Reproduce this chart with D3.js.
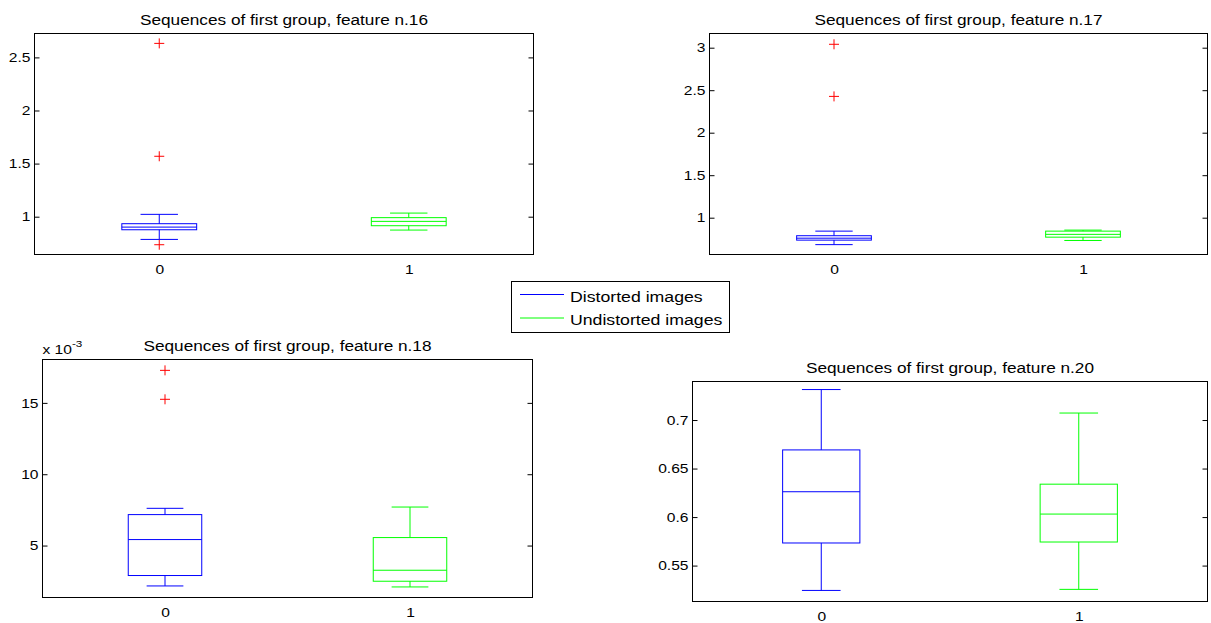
<!DOCTYPE html>
<html>
<head>
<meta charset="utf-8">
<script src="https://cdn.jsdelivr.net/npm/d3@7"></script>
<style>
  html, body { margin: 0; padding: 0; background: #fff; }
  svg { display: block; font-family: "Liberation Sans", Arial, Helvetica, sans-serif; }
</style>
</head>
<body>
<svg id="chart" width="1211" height="623"></svg>
<script>
// ---------------- DATA ----------------
const groups = ["0", "1"];
const seriesNames = ["Distorted images", "Undistorted images"];
const seriesColors = ["#0000ff", "#00ff00"];
const outlierColor = "#ff0000";

const titles = [
  "Sequences of first group, feature n.16",
  "Sequences of first group, feature n.17",
  "Sequences of first group, feature n.18",
  "Sequences of first group, feature n.20"
];

// stats per group: [lower whisker, Q1, median, Q3, upper whisker]
const f16Stats = [[0.786, 0.877, 0.902, 0.934, 1.022], [0.874, 0.915, 0.956, 0.991, 1.034]];
const f16Outliers = [[0.736, 1.569, 2.632], []];
const f16Ticks = [1, 1.5, 2, 2.5];
const f16Limits = [0.644, 2.725];

const f17Stats = [[0.683, 0.736, 0.759, 0.788, 0.842], [0.732, 0.771, 0.804, 0.842, 0.854]];
const f17Outliers = [[2.427, 3.04], []];
const f17Ticks = [1, 1.5, 2, 2.5, 3];
const f17Limits = [0.567, 3.167];

const f18Stats = [[0.00217, 0.00290, 0.00542, 0.00717, 0.00761], [0.00210, 0.00250, 0.00327, 0.00556, 0.00770]];
const f18Outliers = [[0.01525, 0.01728], []];
const f18Ticks = [0.005, 0.010, 0.015];
const f18Limits = [0.00136, 0.01804];
const f18Exponent = -3;

const f20Stats = [[0.5244, 0.5733, 0.6261, 0.6692, 0.7314], [0.5255, 0.5743, 0.6031, 0.6339, 0.7072]];
const f20Outliers = [[], []];
const f20Ticks = [0.55, 0.6, 0.65, 0.7];
const f20Limits = [0.513, 0.7397];

// ---------------- LAYOUT ----------------
const panels = [
  { title: titles[0], stats: f16Stats, outliers: f16Outliers, ticks: f16Ticks, limits: f16Limits, exp: 0,
    box: { left: 34.5, right: 533.5, top: 33.5, bottom: 254.5 } },
  { title: titles[1], stats: f17Stats, outliers: f17Outliers, ticks: f17Ticks, limits: f17Limits, exp: 0,
    box: { left: 709.5, right: 1207.5, top: 33.5, bottom: 254.5 } },
  { title: titles[2], stats: f18Stats, outliers: f18Outliers, ticks: f18Ticks, limits: f18Limits, exp: f18Exponent,
    box: { left: 42.5, right: 532.5, top: 359.5, bottom: 597.5 } },
  { title: titles[3], stats: f20Stats, outliers: f20Outliers, ticks: f20Ticks, limits: f20Limits, exp: 0,
    box: { left: 692.5, right: 1207.5, top: 381.5, bottom: 601.5 } }
];

const TICK_FS = 12, TICK_SX = 1.3;
const TITLE_FS = 14, TITLE_SX = 1.23;
const LEG_FS = 15, LEG_SX = 1.18;

const svg = d3.select("#chart");

function stretchText(sel, sx) {
  sel.each(function () {
    const t = d3.select(this);
    const x = +t.attr("x") || 0;
    const y = +t.attr("y") || 0;
    t.attr("x", null).attr("y", null)
     .attr("transform", `translate(${x},${y}) scale(${sx},1)`);
  });
}

panels.forEach(p => {
  const b = p.box;
  const g = svg.append("g");
  const x = d3.scaleLinear().domain([0.5, groups.length + 0.5]).range([b.left, b.right]);
  const y = d3.scaleLinear().domain(p.limits).range([b.bottom, b.top]);
  const scaleMul = Math.pow(10, -p.exp);
  const fmt = v => d3.format("~g")(+(v * scaleMul).toPrecision(6));

  // left axis (inward ticks)
  const ax = g.append("g").attr("transform", `translate(${b.left},0)`)
    .call(d3.axisLeft(y).tickValues(p.ticks).tickSize(-5).tickPadding(0).tickFormat(fmt));
  ax.select(".domain").remove();
  ax.selectAll(".tick line").attr("stroke", "#000");
  ax.selectAll(".tick text")
    .attr("font-size", TICK_FS).attr("fill", "#000")
    .attr("font-family", "Liberation Sans, Arial, sans-serif")
    .attr("text-anchor", "end").attr("dy", "0.35em").attr("x", -4);
  ax.selectAll(".tick text").each(function () {
    const t = d3.select(this);
    t.attr("transform", `translate(-4,0) scale(${TICK_SX},1)`).attr("x", 0);
  });

  // right axis (inward ticks, no labels)
  const axr = g.append("g").attr("transform", `translate(${b.right},0)`)
    .call(d3.axisRight(y).tickValues(p.ticks).tickSize(-5).tickFormat(""));
  axr.select(".domain").remove();
  axr.selectAll(".tick line").attr("stroke", "#000");

  // bottom labels
  const axb = g.append("g").attr("transform", `translate(0,${b.bottom})`)
    .call(d3.axisBottom(x).tickValues(groups.map((d, i) => i + 1)).tickSize(0).tickPadding(0)
      .tickFormat((d, i) => groups[i]));
  axb.select(".domain").remove();
  axb.selectAll(".tick text")
    .attr("font-size", TICK_FS).attr("fill", "#000")
    .attr("font-family", "Liberation Sans, Arial, sans-serif")
    .attr("dy", null).attr("y", 19)
    .each(function () {
      d3.select(this).attr("y", null).attr("transform", `translate(0,19) scale(${TICK_SX},1)`);
    });

  // frame
  g.append("rect")
    .attr("x", b.left).attr("y", b.top)
    .attr("width", b.right - b.left).attr("height", b.bottom - b.top)
    .attr("fill", "none").attr("stroke", "#000").attr("stroke-width", 1);

  // title
  g.append("text")
    .attr("x", (b.left + b.right) / 2).attr("y", b.top - 9)
    .attr("text-anchor", "middle").attr("font-size", TITLE_FS).attr("fill", "#000")
    .text(p.title)
    .call(s => stretchText(s, TITLE_SX));

  // exponent label
  if (p.exp !== 0) {
    const et = g.append("text")
      .attr("x", b.left).attr("y", b.top - 6)
      .attr("font-size", TICK_FS).attr("fill", "#000");
    et.append("tspan").text("x 10");
    et.append("tspan").attr("dy", -7).attr("font-size", 9).text(String(p.exp));
    stretchText(et, TICK_SX);
  }

  // boxes
  const halfBox = 0.15, halfCap = 0.075;
  p.stats.forEach((s, i) => {
    const c = i + 1;
    const col = seriesColors[i];
    const bg = g.append("g").attr("stroke", col).attr("fill", "none").attr("stroke-width", 1);
    const [lw, q1, med, q3, uw] = s;
    // whiskers
    bg.append("line").attr("x1", x(c)).attr("x2", x(c)).attr("y1", y(q3)).attr("y2", y(uw));
    bg.append("line").attr("x1", x(c)).attr("x2", x(c)).attr("y1", y(q1)).attr("y2", y(lw));
    // caps
    bg.append("line").attr("x1", x(c - halfCap)).attr("x2", x(c + halfCap)).attr("y1", y(uw)).attr("y2", y(uw));
    bg.append("line").attr("x1", x(c - halfCap)).attr("x2", x(c + halfCap)).attr("y1", y(lw)).attr("y2", y(lw));
    // box
    bg.append("rect").attr("x", x(c - halfBox)).attr("y", y(q3))
      .attr("width", x(c + halfBox) - x(c - halfBox)).attr("height", y(q1) - y(q3));
    // median
    bg.append("line").attr("x1", x(c - halfBox)).attr("x2", x(c + halfBox)).attr("y1", y(med)).attr("y2", y(med));

    // outliers
    const og = g.append("g").attr("stroke", outlierColor).attr("stroke-width", 1);
    p.outliers[i].forEach(v => {
      const px = x(c), py = y(v);
      og.append("line").attr("x1", px - 5).attr("x2", px + 5).attr("y1", py).attr("y2", py);
      og.append("line").attr("x1", px).attr("x2", px).attr("y1", py - 5).attr("y2", py + 5);
    });
  });
});

// ---------------- LEGEND ----------------
const leg = svg.append("g");
leg.append("rect").attr("x", 511.5).attr("y", 281.5).attr("width", 218).attr("height", 51)
  .attr("fill", "#fff").attr("stroke", "#000").attr("stroke-width", 1);
seriesNames.forEach((name, i) => {
  const cy = 294.5 + i * 23.5;
  leg.append("line").attr("x1", 520).attr("x2", 564).attr("y1", cy).attr("y2", cy)
    .attr("stroke", seriesColors[i]).attr("stroke-width", 1);
  leg.append("text").attr("x", 570).attr("y", cy + 7)
    .attr("font-size", LEG_FS).attr("fill", "#000").text(name)
    .call(s => stretchText(s, LEG_SX));
});
</script>
</body>
</html>
